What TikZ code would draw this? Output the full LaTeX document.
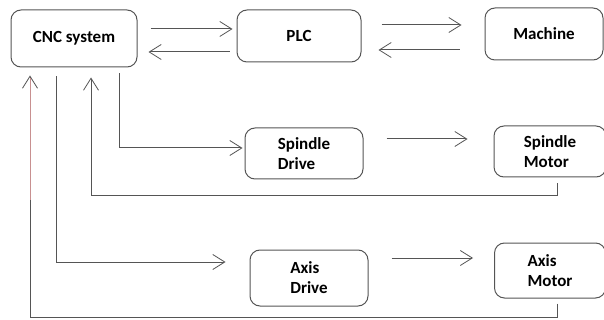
\documentclass[tikz,border=0pt]{standalone}
\usepackage{fontspec}
\setmainfont{Carlito}
\usepackage{xcolor}
\usepackage{tikz}
\usetikzlibrary{arrows.meta}

\definecolor{wire}{HTML}{555555}
\definecolor{redwire}{HTML}{C89090}

\begin{document}
\begin{tikzpicture}[x=1pt,y=-1pt,>={Straight Barb[length=12pt,width=15pt,line width=0.8pt]},
  every node/.style={font=\fontsize{17}{20}\selectfont\bfseries},
  blk/.style={draw=wire,line width=1pt,rounded corners=10pt,align=left,inner sep=0pt},
  link/.style={draw=wire,line width=1pt}]
\useasboundingbox (0,0) rectangle (604,320);
\node[blk,minimum width=126pt,minimum height=57pt] (cnc) at (74,38.5) {CNC system};
\node[blk,minimum width=124pt,minimum height=52pt] (plc) at (299,36) {PLC};
\node[blk,minimum width=118pt,minimum height=52pt] (mach) at (544,34) {Machine};
\node[blk,minimum width=118pt,minimum height=51pt] (sdrive) at (304,153.5) {Spindle\\Drive};
\node[blk,minimum width=112pt,minimum height=51pt] (smotor) at (550,151.5) {Spindle\\Motor};
\node[blk,minimum width=118pt,minimum height=56pt] (adrive) at (309,278) {Axis\\Drive};
\node[blk,minimum width=111pt,minimum height=55pt] (amotor) at (550,270.5) {Axis\\Motor};
% top row
\draw[link,->,shorten <=13pt,shorten >=4pt] (cnc.east |- 0,29) -- (plc.west |- 0,29);
\draw[link,->,shorten <=7pt,shorten >=11pt] (plc.west |- 0,52) -- (cnc.east |- 0,52);
\draw[link,->,shorten <=20pt,shorten >=23pt] (plc.east |- 0,25) -- (mach.west |- 0,25);
\draw[link,->,shorten <=25pt,shorten >=17pt] (mach.west |- 0,50) -- (plc.east |- 0,50);
% drives to motors
\draw[link,->,shorten <=23pt,shorten >=26pt] (sdrive.east |- 0,139) -- (smotor.west |- 0,139);
\draw[link,->,shorten <=23pt,shorten >=21pt] (adrive.east |- 0,258) -- (amotor.west |- 0,258);
% cnc to drives
\draw[link,->,shorten <=6pt,shorten >=2pt] (119,0 |- cnc.south) |- (sdrive.west |- 0,148);
\draw[link,->,shorten <=9pt,shorten >=24pt] (56,0 |- cnc.south) |- (adrive.west |- 0,262);
% feedback
\draw[link,->,shorten <=6pt,shorten >=10pt] (557,0 |- smotor.south) -- (557,196) -| (91,0 |- cnc.south);
\draw[link,->,shorten <=5pt,shorten >=8pt] (557,0 |- amotor.south) -- (557,317) -| (30,0 |- cnc.south);
\draw[redwire,line width=0.6pt] (30,200) -- (30,78);
\end{tikzpicture}
\end{document}
